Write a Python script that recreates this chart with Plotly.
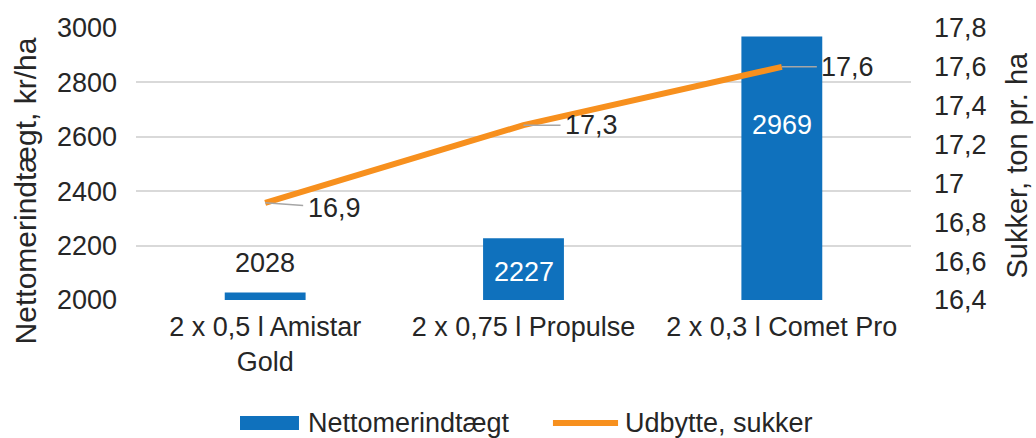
import plotly.graph_objects as go

categories = ["2 x 0,5 l Amistar Gold", "2 x 0,75 l Propulse", "2 x 0,3 l Comet Pro"]
tick_labels = ["2 x 0,5 l Amistar<br>Gold", "2 x 0,75 l Propulse", "2 x 0,3 l Comet Pro"]
netto = [2028, 2227, 2969]
sukker = [16.9, 17.3, 17.6]
series_names = ["Nettomerindtægt", "Udbytte, sukker"]

BLUE = "#0F71BD"
ORANGE = "#F7901E"
TXT = "#262626"
FONT = "Liberation Sans, Arial, sans-serif"
FS = 27

fig = go.Figure()
fig.add_trace(go.Bar(x=categories, y=netto, name=series_names[0],
                     marker=dict(color=BLUE, line=dict(width=0)), yaxis="y",
                     showlegend=False))
fig.add_trace(go.Scatter(x=categories, y=sukker, name=series_names[1], mode="lines",
                         line=dict(color=ORANGE, width=6), yaxis="y2",
                         showlegend=False))

# bar value labels
bar_shift = [29, -34, -89]
bar_col = [TXT, "white", "white"]
for c, v, s, col in zip(categories, netto, bar_shift, bar_col):
    fig.add_annotation(x=c, y=v, xref="x", yref="y", text=str(v), showarrow=False,
                       yshift=s, font=dict(size=FS, color=col, family=FONT))

# line value labels with leader lines
lab_ax = [69, 68, 66]
lab_ay = [5, 0, 0]
for c, v, ax, ay in zip(categories, sukker, lab_ax, lab_ay):
    fig.add_annotation(x=c, y=v, xref="x", yref="y2", text=f"{v:.1f}".replace(".", ","),
                       showarrow=True, arrowhead=0, arrowwidth=1.5, arrowcolor="#A6A6A6",
                       ax=ax, ay=ay, standoff=0, borderpad=4,
                       font=dict(size=FS, color=TXT, family=FONT))

# axis titles
fig.add_annotation(text="Nettomerindtægt, kr/ha", xref="paper", yref="paper",
                   x=-0.143, y=0.40, xanchor="center", yanchor="middle",
                   textangle=-90, showarrow=False,
                   font=dict(size=30, color=TXT, family=FONT))
fig.add_annotation(text="Sukker, ton pr. ha", xref="paper", yref="paper",
                   x=1.137, y=0.495, xanchor="center", yanchor="middle",
                   textangle=-90, showarrow=False,
                   font=dict(size=29, color=TXT, family=FONT))

# custom legend (paper coordinates)
fig.add_shape(type="rect", xref="paper", yref="paper", x0=0.1342, x1=0.2103,
              y0=-0.4779, y1=-0.4265, fillcolor=BLUE, line=dict(width=0))
fig.add_annotation(text=series_names[0], xref="paper", yref="paper", x=0.2194, y=-0.4522,
                   xanchor="left", yanchor="middle", showarrow=False,
                   font=dict(size=FS, color=TXT, family=FONT))
fig.add_shape(type="line", xref="paper", yref="paper", x0=0.538, x1=0.622,
              y0=-0.4522, y1=-0.4522, line=dict(color=ORANGE, width=6))
fig.add_annotation(text=series_names[1], xref="paper", yref="paper", x=0.6284, y=-0.4522,
                   xanchor="left", yanchor="middle", showarrow=False,
                   font=dict(size=FS, color=TXT, family=FONT))

fig.update_layout(
    width=1036, height=438,
    margin=dict(l=136, r=125, t=28, b=138),
    paper_bgcolor="white", plot_bgcolor="white",
    separators=",.",
    bargap=0.687,
    font=dict(family=FONT, size=FS, color=TXT),
    xaxis=dict(tickmode="array", tickvals=categories, ticktext=tick_labels,
               showgrid=False, zeroline=False, showline=False, automargin=False,
               tickfont=dict(size=FS, color=TXT), ticklabelstandoff=8),
    yaxis=dict(range=[2000, 3000], dtick=200, showgrid=True, gridcolor="#D9D9D9",
               gridwidth=1.5, zeroline=False, showline=False, automargin=False,
               tickfont=dict(size=FS, color=TXT), ticklabelstandoff=18),
    yaxis2=dict(range=[16.4, 17.8], dtick=0.2, overlaying="y", side="right",
                showgrid=False, zeroline=False, showline=False, automargin=False,
                tickfont=dict(size=FS, color=TXT), ticklabelstandoff=22),
    showlegend=False,
)

fig.write_html("out.html", config={"displayModeBar": False},
               post_script="document.body.style.margin='0';document.body.style.overflow='hidden';")
